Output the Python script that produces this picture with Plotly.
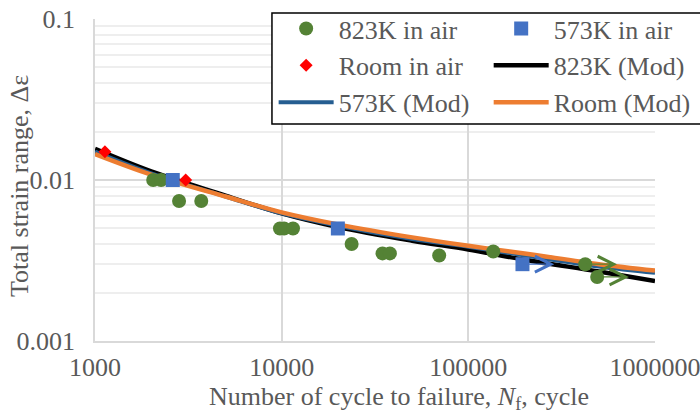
import plotly.graph_objects as go
import math

# ---- data ----
n_823 = [2050, 2260, 2820, 3710, 9790, 10300, 11500, 23700, 34700, 38000, 69800, 136000, 423000, 490000]
s_823 = [0.0100, 0.0100, 0.0074, 0.0074, 0.0050, 0.0050, 0.0050, 0.0040, 0.0035, 0.0035, 0.0034, 0.0036, 0.0030, 0.0025]
n_573 = [2610, 20000, 195000]
s_573 = [0.0100, 0.0050, 0.0030]
n_room = [1130, 3060]
s_room = [0.0150, 0.0100]

# run-out (arrow) points
runout_823_n = [423000, 490000]
runout_823_s = [0.0030, 0.0025]
runout_573_n = [195000]
runout_573_s = [0.0030]

mod_n = [1000, 2000, 5000, 10000, 20000, 50000, 100000, 200000, 500000, 1000000]
mod_823 = [0.0156, 0.0113, 0.0080, 0.0062, 0.0051, 0.0042, 0.0037, 0.0032, 0.0027, 0.00236]
mod_573 = [0.0150, 0.0110, 0.0079, 0.0062, 0.0052, 0.0043, 0.00385, 0.0034, 0.0029, 0.00265]
mod_room = [0.0145, 0.0108, 0.0079, 0.0063, 0.0053, 0.0044, 0.0039, 0.0035, 0.0030, 0.00274]

x_ticks = [1000, 10000, 100000, 1000000]
x_tick_text = ["1000", "10000", "100000", "1000000"]
y_ticks = [0.001, 0.01, 0.1]
y_tick_text = ["0.001", "0.01", "0.1"]

FONT = "Liberation Serif"
GRAY = "#595959"
ARROW_DECADES = 0.17  # arrow length (style), in log10 units

fig = go.Figure()

# model lines (drawn first)
fig.add_trace(go.Scatter(x=mod_n, y=mod_823, mode="lines", name="823K (Mod)",
                         line=dict(color="#000000", width=4.5, shape="spline"),
                         legend="legend2", legendrank=2))
fig.add_trace(go.Scatter(x=mod_n, y=mod_573, mode="lines", name="573K (Mod)",
                         line=dict(color="#255E91", width=4, shape="spline"),
                         legend="legend", legendrank=3))
fig.add_trace(go.Scatter(x=mod_n, y=mod_room, mode="lines", name="Room (Mod)",
                         line=dict(color="#ED7D31", width=4.5, shape="spline"),
                         legend="legend2", legendrank=3))

# experimental points
fig.add_trace(go.Scatter(x=n_823, y=s_823, mode="markers", name="823K in air",
                         marker=dict(symbol="circle", size=14, color="#548235"),
                         legend="legend", legendrank=1))
fig.add_trace(go.Scatter(x=n_573, y=s_573, mode="markers", name="573K in air",
                         marker=dict(symbol="square", size=14, color="#4472C4"),
                         legend="legend2", legendrank=1))
fig.add_trace(go.Scatter(x=n_room, y=s_room, mode="markers", name="Room in air",
                         marker=dict(symbol="diamond", size=10, color="#FF0000"),
                         legend="legend", legendrank=2))

annotations = []
for nn, ss, col in ([(a, b, "#548235") for a, b in zip(runout_823_n, runout_823_s)] +
                    [(a, b, "#4472C4") for a, b in zip(runout_573_n, runout_573_s)]):
    annotations.append(dict(x=math.log10(nn) + ARROW_DECADES, y=math.log10(ss),
                            ax=math.log10(nn), ay=math.log10(ss),
                            xref="x", yref="y", axref="x", ayref="y",
                            text="", showarrow=True,
                            arrowhead=5, arrowsize=2.6, arrowwidth=1.2, arrowcolor=col))

annotations.append(dict(text="Total strain range, \u0394\u03b5", textangle=-90,
                        x=-0.136, y=0.481, xref="paper", yref="paper",
                        xanchor="center", yanchor="middle", showarrow=False,
                        font=dict(family=FONT, size=26, color=GRAY)))
annotations.append(dict(text="Number of cycle to failure, <i>N</i><sub>f</sub>, cycle",
                        x=0.543, y=-0.176, xref="paper", yref="paper",
                        xanchor="center", yanchor="middle", showarrow=False,
                        font=dict(family=FONT, size=26, color=GRAY)))

legend_common = dict(orientation="v", yanchor="top", y=1.043, xanchor="left",
                     bgcolor="rgba(0,0,0,0)", borderwidth=0, itemwidth=55,
                     traceorder="normal", tracegroupgap=0,
                     font=dict(family=FONT, size=26, color=GRAY))

fig.update_layout(
    width=700, height=413,
    margin=dict(l=95, r=45, t=19, b=72, autoexpand=False),
    paper_bgcolor="white", plot_bgcolor="white",
    font=dict(family=FONT, size=26, color=GRAY),
    showlegend=True,
    legend=dict(x=0.319, **legend_common),
    legend2=dict(x=0.703, **legend_common),
    annotations=annotations,
    shapes=[dict(type="rect", xref="paper", yref="paper",
                 x0=0.316, x1=1.084, y0=0.674, y1=1.0186,
                 line=dict(color="#000000", width=1.5), fillcolor="white",
                 layer="above")],
)

fig.update_xaxes(type="log", range=[3, 6], tickvals=x_ticks, ticktext=x_tick_text,
                 showgrid=True, gridcolor="#d9d9d9", gridwidth=1.5,
                 showline=True, linecolor="#d9d9d9", linewidth=1.5,
                 ticks="", ticklabelstandoff=2, zeroline=False, automargin=False,
                 ticklabeloverflow="allow",
                 tickfont=dict(family=FONT, size=26, color=GRAY))
fig.update_yaxes(type="log", range=[-3, -1], tickvals=y_ticks, ticktext=y_tick_text,
                 showgrid=True, gridcolor="#d9d9d9", gridwidth=1.5,
                 minor=dict(showgrid=True, gridcolor="#eeeeee", gridwidth=1.5, dtick="D1"),
                 showline=True, linecolor="#d9d9d9", linewidth=1.5,
                 ticks="", ticklabelstandoff=13, zeroline=False, automargin=False,
                 ticklabeloverflow="allow",
                 tickfont=dict(family=FONT, size=26, color=GRAY))

fig.write_html("out.html")
